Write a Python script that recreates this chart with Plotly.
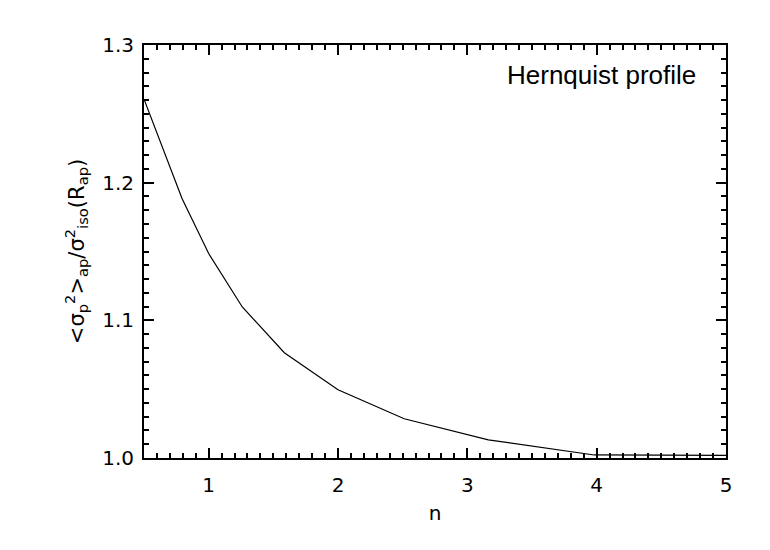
import plotly.graph_objects as go

n_vals = [0.5, 0.794, 1.0, 1.26, 1.585, 2.0, 2.512, 3.162, 3.981, 5.0]
ratio_vals = [1.2607, 1.1885, 1.1485, 1.1097, 1.0765, 1.0496, 1.0285, 1.0132, 1.0022, 1.0019]
x_ticks = [1, 2, 3, 4, 5]
y_ticks = [1.0, 1.1, 1.2, 1.3]
label_text = "Hernquist profile"

FONT = "DejaVu Sans"

fig = go.Figure()
fig.add_trace(go.Scatter(x=n_vals, y=ratio_vals, mode="lines",
                         line=dict(color="black", width=1.2), showlegend=False))

axis_common = dict(showline=True, linecolor="black", linewidth=2, mirror="ticks",
                   ticks="inside", ticklen=10, tickwidth=2, tickcolor="black",
                   showgrid=False, zeroline=False,
                   tickfont=dict(family=FONT, size=20, color="black"))

fig.update_xaxes(range=[0.5, 5], tickvals=x_ticks, ticktext=[str(v) for v in x_ticks],
                 minor=dict(dtick=0.1, ticks="inside", ticklen=5, tickwidth=1.5, tickcolor="black"),
                 title=dict(text="n", font=dict(family=FONT, size=20, color="black"), standoff=10),
                 ticklabelstandoff=8, **axis_common)
fig.update_yaxes(range=[1.0, 1.3], tickvals=y_ticks, ticktext=[f"{v:.1f}" for v in y_ticks],
                 minor=dict(dtick=0.01, ticks="inside", ticklen=5, tickwidth=1.5, tickcolor="black"),
                 title=dict(text="&lt;σ<sub>p</sub><sup>2</sup>&gt;<sub>ap</sub>/σ<sup>2</sup><sub>iso</sub>(R<sub>ap</sub>)",
                            font=dict(family=FONT, size=21, color="black"), standoff=12),
                 ticklabelstandoff=4, **axis_common)

fig.add_annotation(x=0.952, y=0.927, xref="paper", yref="paper", xanchor="right", yanchor="middle",
                   text=label_text, showarrow=False,
                   font=dict(family="Liberation Sans", size=26, color="black"))

fig.update_layout(width=770, height=550, margin=dict(l=136, r=52, t=37, b=100),
                  plot_bgcolor="white", paper_bgcolor="white")

fig.write_html("out.html")
